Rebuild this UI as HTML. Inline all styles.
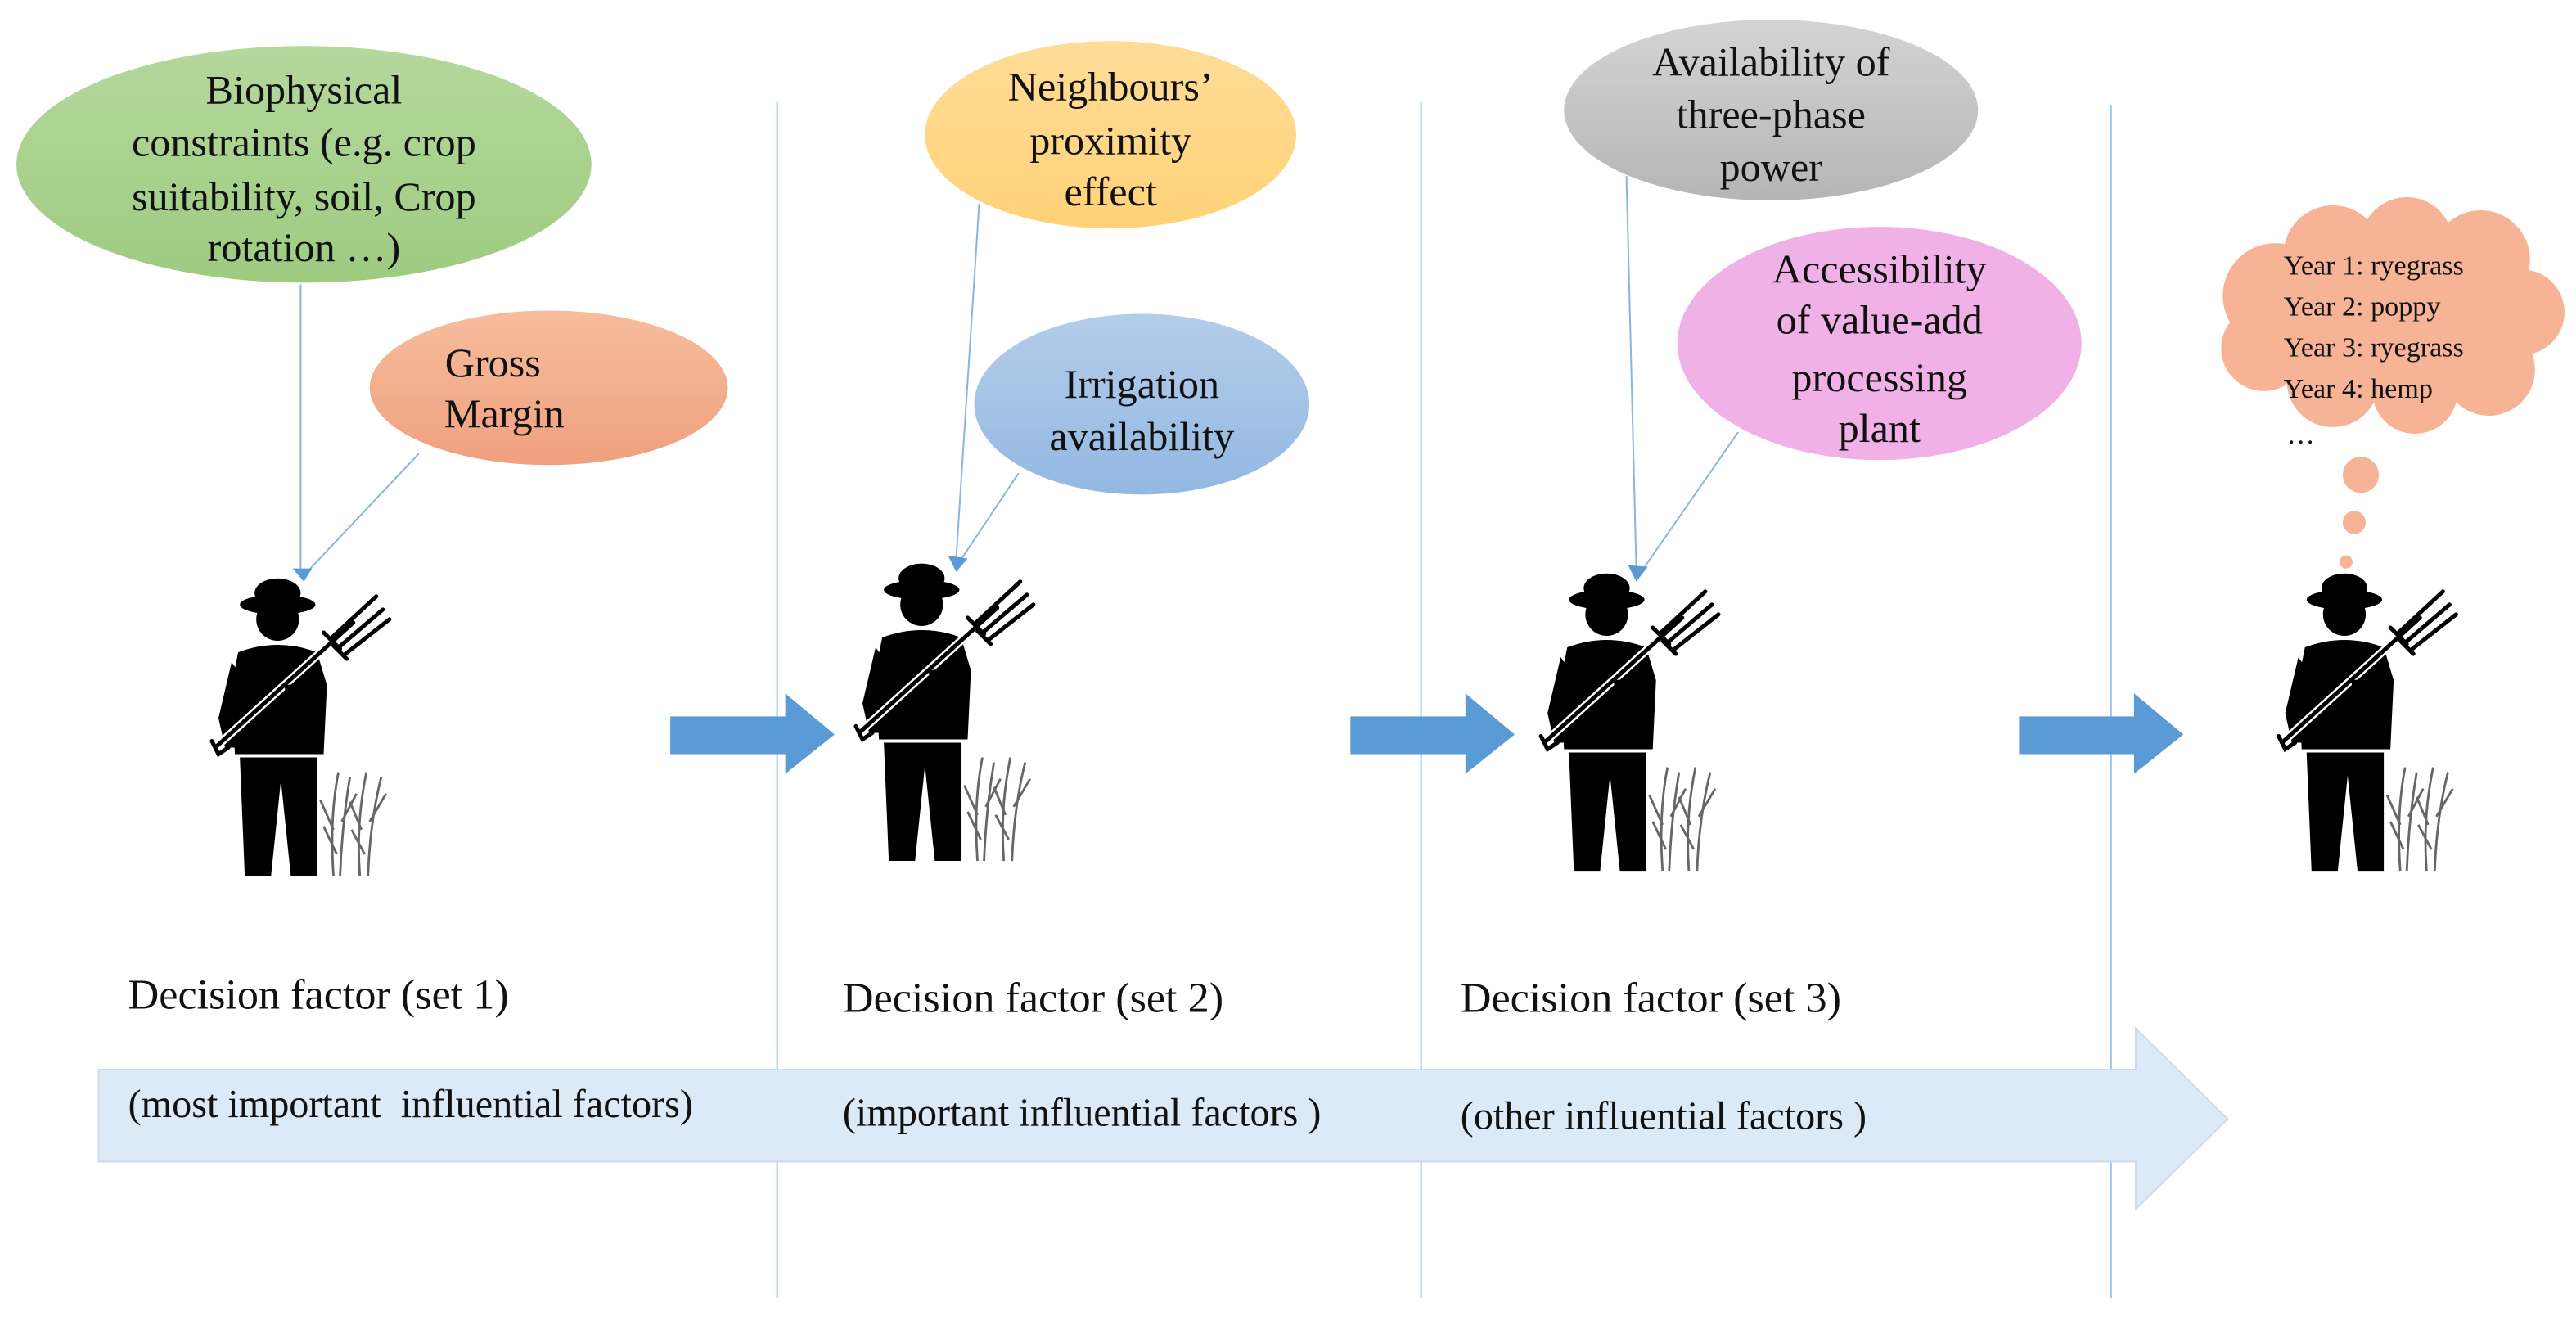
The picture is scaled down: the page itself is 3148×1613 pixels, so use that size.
<!DOCTYPE html>
<html><head><meta charset="utf-8"><style>
html,body{margin:0;padding:0;background:#fff;}
svg{display:block;}
text{font-family:"Liberation Serif",serif;fill:#111;}
</style></head><body>
<svg width="3148" height="1613" viewBox="0 0 1568 803.4" xmlns="http://www.w3.org/2000/svg">
<defs>
<linearGradient id="gG" x1="0" y1="0" x2="0" y2="1"><stop offset="0" stop-color="#b5d89d"/><stop offset="1" stop-color="#9dcb80"/></linearGradient>
<linearGradient id="gO" x1="0" y1="0" x2="0" y2="1"><stop offset="0" stop-color="#f6bd9d"/><stop offset="1" stop-color="#f0a07e"/></linearGradient>
<linearGradient id="gY" x1="0" y1="0" x2="0" y2="1"><stop offset="0" stop-color="#ffdc98"/><stop offset="1" stop-color="#ffd277"/></linearGradient>
<linearGradient id="gB" x1="0" y1="0" x2="0" y2="1"><stop offset="0" stop-color="#b4cdea"/><stop offset="1" stop-color="#93b8e2"/></linearGradient>
<linearGradient id="gS" x1="0" y1="0" x2="0" y2="1"><stop offset="0" stop-color="#d4d4d4"/><stop offset="1" stop-color="#b5b5b5"/></linearGradient>
<g id="farmer">
  <g stroke="#666" stroke-width="1.4" fill="none">
    <path d="M70 178 C68 150 70 130 73 115"/><path d="M74 178 C75 150 78 130 80 118"/>
    <path d="M70 150 L62 132"/><path d="M75 145 L84 128"/><path d="M72 165 L64 148"/>
    <path d="M86 178 C84 150 87 130 90 115"/><path d="M91 178 C92 150 96 130 99 118"/>
    <path d="M87 150 L80 133"/><path d="M92 145 L102 128"/><path d="M89 165 L81 150"/>
  </g>
  <path d="M13 106 L60 106 L60 178 L44 178 L38 120 L32 178 L16 178 Z" fill="#000"/>
  <path d="M12 42 Q36 33 60 42 L66 62 L64 104 L10 104 L8 62 Z" fill="#000"/>
  <path d="M8 48 L0 82 L4 100 L11 100 L9 82 L15 58 Z" fill="#000"/>
  <circle cx="36" cy="22" r="13" fill="#000"/>
  <ellipse cx="36" cy="13" rx="23" ry="6" fill="#000"/>
  <ellipse cx="36" cy="6" rx="14" ry="9" fill="#000"/>
  <g stroke="#fff" stroke-width="5" fill="none" stroke-linecap="round">
    <line x1="-2" y1="100" x2="82" y2="24"/>
  </g>
  <g stroke="#000" stroke-width="2.5" fill="none" stroke-linecap="round">
    <line x1="-2" y1="100" x2="82" y2="24"/>
    <path d="M72 40 L100 16 M68 34 L96 8 M76 44 L104 22 M70 38 L78 46 M64 30 L74 40"/>
    <path d="M-4 96 L0 104 L6 100"/>
  </g>
  <path d="M40 62 L62 60 L64 72 L42 72 Z" fill="#000"/>
</g>
</defs>

<g stroke="#9fc3ea" stroke-width="1">
  <line x1="473" y1="62" x2="473" y2="790"/>
  <line x1="865" y1="62" x2="865" y2="790"/>
  <line x1="1285" y1="64" x2="1285" y2="790"/>
</g>

<path d="M60 651 L1300 651 L1300 626 L1356 681 L1300 736 L1300 707 L60 707 Z" fill="#dce9f6" stroke="#cfdbe8" stroke-width="1"/>

<ellipse cx="185" cy="100" rx="175" ry="72" fill="url(#gG)"/>
<ellipse cx="334" cy="236" rx="109" ry="47" fill="url(#gO)"/>
<ellipse cx="676" cy="82" rx="113" ry="57" fill="url(#gY)"/>
<ellipse cx="695" cy="246" rx="102" ry="55" fill="url(#gB)"/>
<ellipse cx="1078" cy="67" rx="126" ry="55" fill="url(#gS)"/>
<ellipse cx="1144" cy="209" rx="123" ry="71" fill="#efb1e6"/>

<g stroke="#8ab4e4" stroke-width="1" fill="none">
  <line x1="183" y1="173" x2="183" y2="346"/>
  <line x1="255" y1="276" x2="187" y2="348"/>
  <line x1="596" y1="124" x2="582" y2="340"/>
  <line x1="620" y1="288" x2="584" y2="342"/>
  <line x1="990" y1="107" x2="996" y2="346"/>
  <line x1="1058" y1="263" x2="999" y2="348"/>
</g>
<g fill="#5b9bd5">
  <path d="M178 346 L190 346 L185 354 Z"/>
  <path d="M577 338 L589 340 L582 348 Z"/>
  <path d="M991 344 L1003 345 L996 354 Z"/>
</g>

<g font-size="25" text-anchor="middle">
  <text x="185" y="63">Biophysical</text>
  <text x="185" y="95">constraints (e.g. crop</text>
  <text x="185" y="128">suitability, soil, Crop</text>
  <text x="185" y="159">rotation …)</text>
  <text x="300" y="229">Gross</text>
  <text x="307" y="260">Margin</text>
  <text x="676" y="61">Neighbours’</text>
  <text x="676" y="94">proximity</text>
  <text x="676" y="125">effect</text>
  <text x="695" y="242">Irrigation</text>
  <text x="695" y="274">availability</text>
  <text x="1078" y="46">Availability of</text>
  <text x="1078" y="78">three-phase</text>
  <text x="1078" y="110">power</text>
  <text x="1144" y="172">Accessibility</text>
  <text x="1144" y="203">of value-add</text>
  <text x="1144" y="238">processing</text>
  <text x="1144" y="269">plant</text>
</g>

<g fill="#5b9bd5">
  <path d="M408 436 L478 436 L478 422 L508 447 L478 471 L478 459 L408 459 Z"/>
  <path d="M822 436 L892 436 L892 422 L922 447 L892 471 L892 459 L822 459 Z"/>
  <path d="M1229 436 L1299 436 L1299 422 L1329 447 L1299 471 L1299 459 L1229 459 Z"/>
</g>

<use href="#farmer" transform="translate(133,355)"/>
<use href="#farmer" transform="translate(525,346)"/>
<use href="#farmer" transform="translate(942,352)"/>
<use href="#farmer" transform="translate(1391,352)"/>

<g fill="#f6b396">
  <circle cx="1385" cy="180" r="32"/>
  <circle cx="1420" cy="155" r="30"/>
  <circle cx="1465" cy="148" r="28"/>
  <circle cx="1510" cy="158" r="30"/>
  <circle cx="1535" cy="190" r="26"/>
  <circle cx="1515" cy="225" r="28"/>
  <circle cx="1470" cy="238" r="26"/>
  <circle cx="1420" cy="232" r="28"/>
  <circle cx="1378" cy="212" r="26"/>
  <ellipse cx="1455" cy="193" rx="85" ry="50"/>
  <circle cx="1437" cy="289" r="11"/>
  <circle cx="1433" cy="318" r="7"/>
  <circle cx="1428" cy="342" r="4"/>
</g>
<g font-size="17">
  <text x="1390" y="167">Year 1: ryegrass</text>
  <text x="1390" y="192">Year 2: poppy</text>
  <text x="1390" y="217">Year 3: ryegrass</text>
  <text x="1390" y="242">Year 4: hemp</text>
  <text x="1392" y="270" fill="#555">…</text>
</g>

<g font-size="26">
  <text x="78" y="614">Decision factor (set 1)</text>
  <text x="513" y="616">Decision factor (set 2)</text>
  <text x="889" y="616">Decision factor (set 3)</text>
</g>
<g font-size="24">
  <text x="78" y="680" xml:space="preserve">(most important  influential factors)</text>
  <text x="513" y="685">(important influential factors )</text>
  <text x="889" y="687">(other influential factors )</text>
</g>
</svg>
</body></html>
